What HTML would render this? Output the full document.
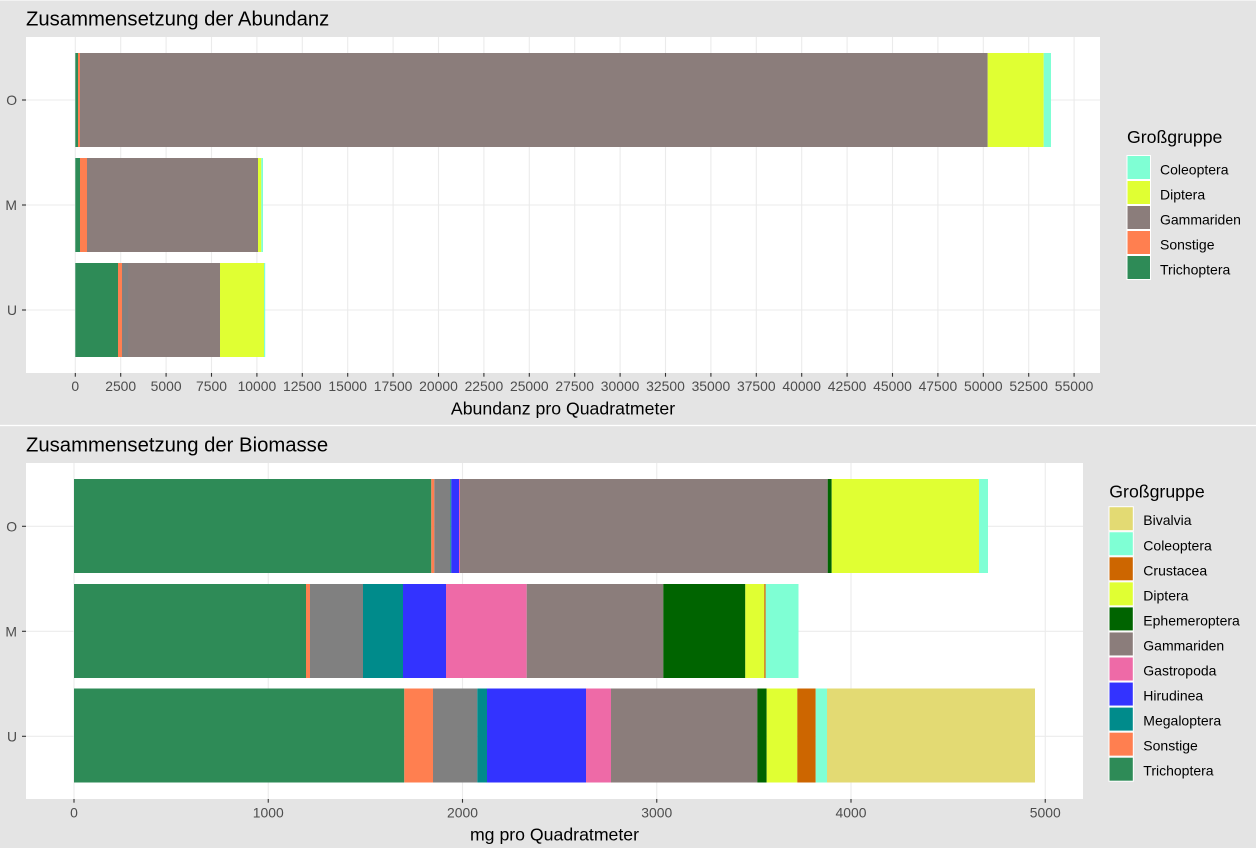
<!DOCTYPE html>
<html><head><meta charset="utf-8"><style>
html,body{margin:0;padding:0;background:#E4E4E4;}
svg{display:block;font-family:"Liberation Sans",Arial,sans-serif;}
</style></head><body>
<svg width="1256" height="848" viewBox="0 0 1256 848" xmlns="http://www.w3.org/2000/svg">
<rect x="0" y="0" width="1256" height="848" fill="#E4E4E4"/>
<line x1="0" y1="0.5" x2="1256" y2="0.5" stroke="#F2F2F2" stroke-width="1"/>
<line x1="0" y1="425.5" x2="1256" y2="425.5" stroke="#FFFFFF" stroke-width="1.2"/>

<!-- ================= TOP PLOT ================= -->
<text x="26" y="25.5" font-size="20.3" fill="#000">Zusammensetzung der Abundanz</text>
<rect x="26" y="37" width="1074" height="336" fill="#FFFFFF"/>
<g stroke="#EBEBEB" stroke-width="1.1">
<line x1="26" y1="100" x2="1100" y2="100"/>
<line x1="26" y1="205" x2="1100" y2="205"/>
<line x1="26" y1="310" x2="1100" y2="310"/>
<line x1="75.3" y1="37" x2="75.3" y2="373"/>
<line x1="120.7" y1="37" x2="120.7" y2="373"/>
<line x1="166.1" y1="37" x2="166.1" y2="373"/>
<line x1="211.5" y1="37" x2="211.5" y2="373"/>
<line x1="256.9" y1="37" x2="256.9" y2="373"/>
<line x1="302.3" y1="37" x2="302.3" y2="373"/>
<line x1="347.7" y1="37" x2="347.7" y2="373"/>
<line x1="393.1" y1="37" x2="393.1" y2="373"/>
<line x1="438.5" y1="37" x2="438.5" y2="373"/>
<line x1="483.9" y1="37" x2="483.9" y2="373"/>
<line x1="529.3" y1="37" x2="529.3" y2="373"/>
<line x1="574.7" y1="37" x2="574.7" y2="373"/>
<line x1="620.1" y1="37" x2="620.1" y2="373"/>
<line x1="665.5" y1="37" x2="665.5" y2="373"/>
<line x1="710.9" y1="37" x2="710.9" y2="373"/>
<line x1="756.3" y1="37" x2="756.3" y2="373"/>
<line x1="801.7" y1="37" x2="801.7" y2="373"/>
<line x1="847.1" y1="37" x2="847.1" y2="373"/>
<line x1="892.5" y1="37" x2="892.5" y2="373"/>
<line x1="937.9" y1="37" x2="937.9" y2="373"/>
<line x1="983.3" y1="37" x2="983.3" y2="373"/>
<line x1="1028.7" y1="37" x2="1028.7" y2="373"/>
<line x1="1074.1" y1="37" x2="1074.1" y2="373"/>
</g>
<!-- bars top -->
<g>
<rect x="75.3" y="53" width="2.7" height="94" fill="#2E8B57"/>
<rect x="78" y="53" width="2" height="94" fill="#FF7F50"/>
<rect x="80" y="53" width="907.7" height="94" fill="#8B7D7B"/>
<rect x="987.7" y="53" width="56" height="94" fill="#E0FF33"/>
<rect x="1043.7" y="53" width="7.3" height="94" fill="#7FFFD4"/>

<rect x="75.3" y="158" width="4.7" height="94" fill="#2E8B57"/>
<rect x="80" y="158" width="7" height="94" fill="#FF7F50"/>
<rect x="87" y="158" width="171" height="94" fill="#8B7D7B"/>
<rect x="258" y="158" width="3.3" height="94" fill="#E0FF33"/>
<rect x="261.3" y="158" width="1.7" height="94" fill="#7FFFD4"/>

<rect x="75.3" y="263" width="42.7" height="94" fill="#2E8B57"/>
<rect x="118" y="263" width="4" height="94" fill="#FF7F50"/>
<rect x="122" y="263" width="6" height="94" fill="#808080"/>
<rect x="128" y="263" width="92" height="94" fill="#8B7D7B"/>
<rect x="220" y="263" width="44" height="94" fill="#E0FF33"/>
<rect x="264" y="263" width="1.2" height="94" fill="#7FFFD4"/>
</g>
<!-- y axis top -->
<g stroke="#333333" stroke-width="1.1">
<line x1="22" y1="100" x2="26" y2="100"/>
<line x1="22" y1="205" x2="26" y2="205"/>
<line x1="22" y1="310" x2="26" y2="310"/>
</g>
<g font-size="13.9" fill="#4D4D4D" text-anchor="end">
<text x="17" y="105">O</text>
<text x="17" y="210">M</text>
<text x="17" y="315">U</text>
</g>
<!-- x axis top -->
<g stroke="#333333" stroke-width="1.1">
<line x1="75.3" y1="373" x2="75.3" y2="376.7"/>
<line x1="120.7" y1="373" x2="120.7" y2="376.7"/>
<line x1="166.1" y1="373" x2="166.1" y2="376.7"/>
<line x1="211.5" y1="373" x2="211.5" y2="376.7"/>
<line x1="256.9" y1="373" x2="256.9" y2="376.7"/>
<line x1="302.3" y1="373" x2="302.3" y2="376.7"/>
<line x1="347.7" y1="373" x2="347.7" y2="376.7"/>
<line x1="393.1" y1="373" x2="393.1" y2="376.7"/>
<line x1="438.5" y1="373" x2="438.5" y2="376.7"/>
<line x1="483.9" y1="373" x2="483.9" y2="376.7"/>
<line x1="529.3" y1="373" x2="529.3" y2="376.7"/>
<line x1="574.7" y1="373" x2="574.7" y2="376.7"/>
<line x1="620.1" y1="373" x2="620.1" y2="376.7"/>
<line x1="665.5" y1="373" x2="665.5" y2="376.7"/>
<line x1="710.9" y1="373" x2="710.9" y2="376.7"/>
<line x1="756.3" y1="373" x2="756.3" y2="376.7"/>
<line x1="801.7" y1="373" x2="801.7" y2="376.7"/>
<line x1="847.1" y1="373" x2="847.1" y2="376.7"/>
<line x1="892.5" y1="373" x2="892.5" y2="376.7"/>
<line x1="937.9" y1="373" x2="937.9" y2="376.7"/>
<line x1="983.3" y1="373" x2="983.3" y2="376.7"/>
<line x1="1028.7" y1="373" x2="1028.7" y2="376.7"/>
<line x1="1074.1" y1="373" x2="1074.1" y2="376.7"/>
</g>
<g font-size="13.9" fill="#4D4D4D" text-anchor="middle">
<text x="75.3" y="391">0</text>
<text x="120.7" y="391">2500</text>
<text x="166.1" y="391">5000</text>
<text x="211.5" y="391">7500</text>
<text x="256.9" y="391">10000</text>
<text x="302.3" y="391">12500</text>
<text x="347.7" y="391">15000</text>
<text x="393.1" y="391">17500</text>
<text x="438.5" y="391">20000</text>
<text x="483.9" y="391">22500</text>
<text x="529.3" y="391">25000</text>
<text x="574.7" y="391">27500</text>
<text x="620.1" y="391">30000</text>
<text x="665.5" y="391">32500</text>
<text x="710.9" y="391">35000</text>
<text x="756.3" y="391">37500</text>
<text x="801.7" y="391">40000</text>
<text x="847.1" y="391">42500</text>
<text x="892.5" y="391">45000</text>
<text x="937.9" y="391">47500</text>
<text x="983.3" y="391">50000</text>
<text x="1028.7" y="391">52500</text>
<text x="1074.1" y="391">55000</text>
</g>
<text x="563" y="414.5" font-size="17.7" fill="#000" text-anchor="middle">Abundanz pro Quadratmeter</text>
<!-- legend top -->
<text x="1127" y="143" font-size="17.7" fill="#000">Großgruppe</text>
<g stroke="#FFFFFF" stroke-width="1">
<rect x="1127" y="155.5" width="23.5" height="24" fill="#7FFFD4"/>
<rect x="1127" y="180.5" width="23.5" height="24" fill="#E0FF33"/>
<rect x="1127" y="205.5" width="23.5" height="24" fill="#8B7D7B"/>
<rect x="1127" y="230.5" width="23.5" height="24" fill="#FF7F50"/>
<rect x="1127" y="255.5" width="23.5" height="24" fill="#2E8B57"/>
</g>
<g font-size="14" fill="#000">
<text x="1160" y="174.5">Coleoptera</text>
<text x="1160" y="199.5">Diptera</text>
<text x="1160" y="224.5">Gammariden</text>
<text x="1160" y="249.5">Sonstige</text>
<text x="1160" y="274.5">Trichoptera</text>
</g>

<!-- ================= BOTTOM PLOT ================= -->
<text x="26" y="451.5" font-size="20.3" fill="#000">Zusammensetzung der Biomasse</text>
<rect x="26" y="463" width="1057" height="336" fill="#FFFFFF"/>
<g stroke="#EBEBEB" stroke-width="1.1">
<line x1="26" y1="526.3" x2="1083" y2="526.3"/>
<line x1="26" y1="631.3" x2="1083" y2="631.3"/>
<line x1="26" y1="736.3" x2="1083" y2="736.3"/>
<line x1="74" y1="463" x2="74" y2="799"/>
<line x1="268.25" y1="463" x2="268.25" y2="799"/>
<line x1="462.5" y1="463" x2="462.5" y2="799"/>
<line x1="656.75" y1="463" x2="656.75" y2="799"/>
<line x1="851" y1="463" x2="851" y2="799"/>
<line x1="1045.25" y1="463" x2="1045.25" y2="799"/>
</g>
<g>
<!-- O -->
<rect x="74" y="479" width="357.3" height="94" fill="#2E8B57"/>
<rect x="431.3" y="479" width="3" height="94" fill="#FF7F50"/>
<rect x="434.3" y="479" width="16" height="94" fill="#808080"/>
<rect x="450.3" y="479" width="1" height="94" fill="#008B8B"/>
<rect x="451.3" y="479" width="7.7" height="94" fill="#3333FF"/>
<rect x="459" y="479" width="1" height="94" fill="#EE6AA7"/>
<rect x="460" y="479" width="367.7" height="94" fill="#8B7D7B"/>
<rect x="827.7" y="479" width="4" height="94" fill="#006400"/>
<rect x="831.7" y="479" width="147.3" height="94" fill="#E0FF33"/>
<rect x="979" y="479" width="9" height="94" fill="#7FFFD4"/>
<!-- M -->
<rect x="74" y="584" width="232" height="94" fill="#2E8B57"/>
<rect x="306" y="584" width="4" height="94" fill="#FF7F50"/>
<rect x="310" y="584" width="53" height="94" fill="#808080"/>
<rect x="363" y="584" width="40" height="94" fill="#008B8B"/>
<rect x="403" y="584" width="43" height="94" fill="#3333FF"/>
<rect x="446" y="584" width="80.7" height="94" fill="#EE6AA7"/>
<rect x="526.7" y="584" width="136.6" height="94" fill="#8B7D7B"/>
<rect x="663.3" y="584" width="82" height="94" fill="#006400"/>
<rect x="745.3" y="584" width="19" height="94" fill="#E0FF33"/>
<rect x="764.3" y="584" width="1.4" height="94" fill="#CD6600"/>
<rect x="765.7" y="584" width="32.8" height="94" fill="#7FFFD4"/>
<!-- U -->
<rect x="74" y="688.5" width="330.3" height="94" fill="#2E8B57"/>
<rect x="404.3" y="688.5" width="28.7" height="94" fill="#FF7F50"/>
<rect x="433" y="688.5" width="44.3" height="94" fill="#808080"/>
<rect x="477.3" y="688.5" width="9.7" height="94" fill="#008B8B"/>
<rect x="487" y="688.5" width="99" height="94" fill="#3333FF"/>
<rect x="586" y="688.5" width="25" height="94" fill="#EE6AA7"/>
<rect x="611" y="688.5" width="146.3" height="94" fill="#8B7D7B"/>
<rect x="757.3" y="688.5" width="9.4" height="94" fill="#006400"/>
<rect x="766.7" y="688.5" width="30.6" height="94" fill="#E0FF33"/>
<rect x="797.3" y="688.5" width="18.4" height="94" fill="#CD6600"/>
<rect x="815.7" y="688.5" width="11.3" height="94" fill="#7FFFD4"/>
<rect x="827" y="688.5" width="208" height="94" fill="#E3DA73"/>
</g>
<g stroke="#333333" stroke-width="1.1">
<line x1="22" y1="526.3" x2="26" y2="526.3"/>
<line x1="22" y1="631.3" x2="26" y2="631.3"/>
<line x1="22" y1="736.3" x2="26" y2="736.3"/>
<line x1="74" y1="799" x2="74" y2="802.7"/>
<line x1="268.25" y1="799" x2="268.25" y2="802.7"/>
<line x1="462.5" y1="799" x2="462.5" y2="802.7"/>
<line x1="656.75" y1="799" x2="656.75" y2="802.7"/>
<line x1="851" y1="799" x2="851" y2="802.7"/>
<line x1="1045.25" y1="799" x2="1045.25" y2="802.7"/>
</g>
<g font-size="13.9" fill="#4D4D4D" text-anchor="end">
<text x="17" y="531.3">O</text>
<text x="17" y="636.3">M</text>
<text x="17" y="741.3">U</text>
</g>
<g font-size="13.9" fill="#4D4D4D" text-anchor="middle">
<text x="74" y="817.5">0</text>
<text x="268.25" y="817.5">1000</text>
<text x="462.5" y="817.5">2000</text>
<text x="656.75" y="817.5">3000</text>
<text x="851" y="817.5">4000</text>
<text x="1045.25" y="817.5">5000</text>
</g>
<text x="554.5" y="840.5" font-size="17.7" fill="#000" text-anchor="middle">mg pro Quadratmeter</text>
<!-- legend bottom -->
<text x="1109.3" y="497.5" font-size="17.7" fill="#000">Großgruppe</text>
<g stroke="#FFFFFF" stroke-width="1">
<rect x="1109" y="506.7" width="24.3" height="24" fill="#E3DA73"/>
<rect x="1109" y="531.75" width="24.3" height="24" fill="#7FFFD4"/>
<rect x="1109" y="556.8" width="24.3" height="24" fill="#CD6600"/>
<rect x="1109" y="581.85" width="24.3" height="24" fill="#E0FF33"/>
<rect x="1109" y="606.9" width="24.3" height="24" fill="#006400"/>
<rect x="1109" y="631.95" width="24.3" height="24" fill="#8B7D7B"/>
<rect x="1109" y="657" width="24.3" height="24" fill="#EE6AA7"/>
<rect x="1109" y="682.05" width="24.3" height="24" fill="#3333FF"/>
<rect x="1109" y="707.1" width="24.3" height="24" fill="#008B8B"/>
<rect x="1109" y="732.15" width="24.3" height="24" fill="#FF7F50"/>
<rect x="1109" y="757.2" width="24.3" height="24" fill="#2E8B57"/>
</g>
<g font-size="14" fill="#000">
<text x="1143.3" y="525.2">Bivalvia</text>
<text x="1143.3" y="550.25">Coleoptera</text>
<text x="1143.3" y="575.3">Crustacea</text>
<text x="1143.3" y="600.35">Diptera</text>
<text x="1143.3" y="625.4">Ephemeroptera</text>
<text x="1143.3" y="650.45">Gammariden</text>
<text x="1143.3" y="675.5">Gastropoda</text>
<text x="1143.3" y="700.55">Hirudinea</text>
<text x="1143.3" y="725.6">Megaloptera</text>
<text x="1143.3" y="750.65">Sonstige</text>
<text x="1143.3" y="775.7">Trichoptera</text>
</g>
</svg>
</body></html>
